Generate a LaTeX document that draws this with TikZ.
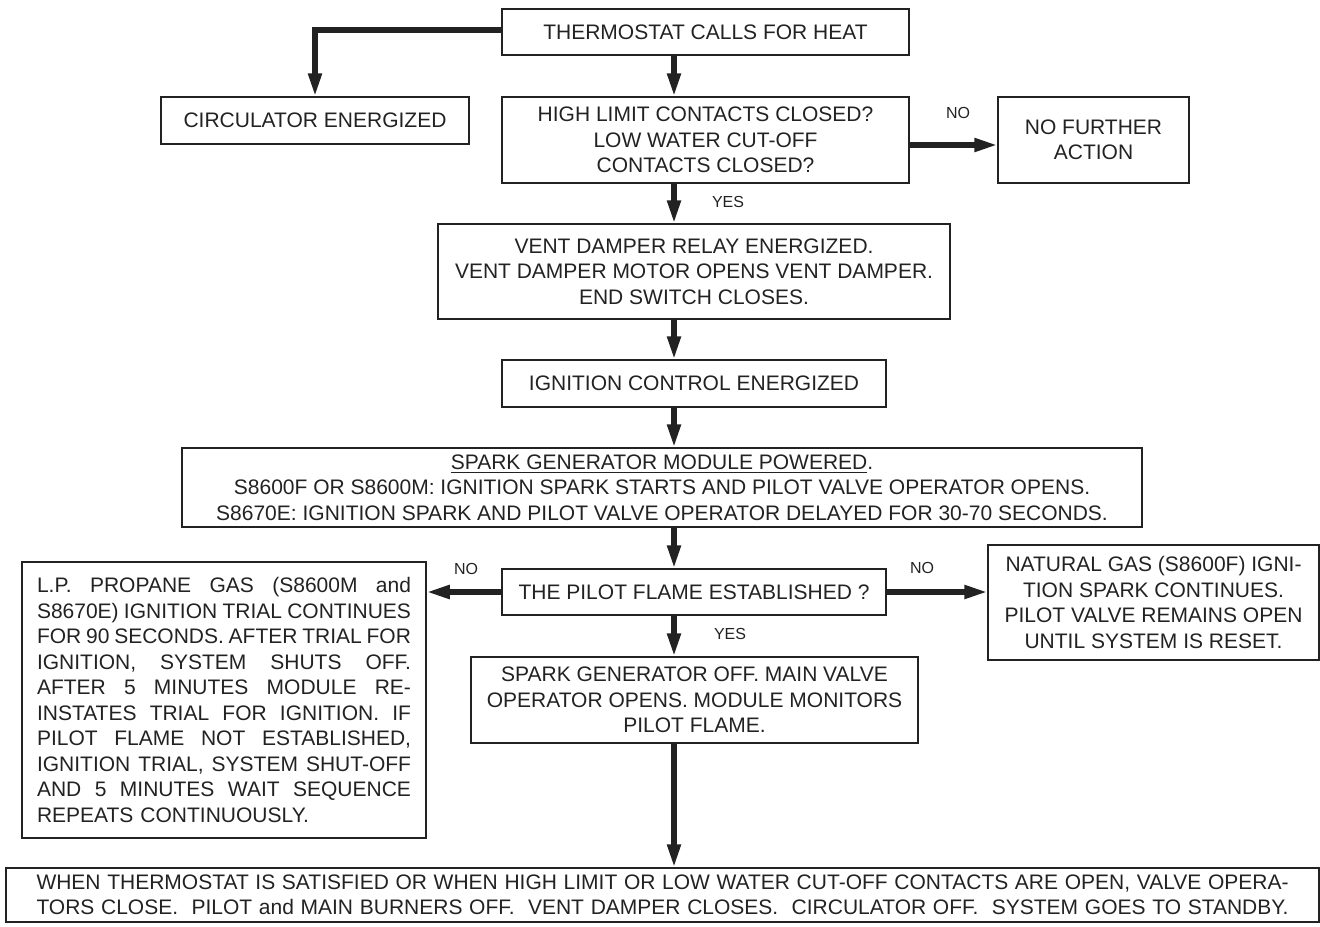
\documentclass[tikz,border=0pt]{standalone}
\usepackage{fontspec}
\setmainfont{Liberation Sans}
\usetikzlibrary{arrows.meta,calc}
\definecolor{ink}{HTML}{222222}
\tikzset{
  box/.style={draw=ink, line width=0.75pt, inner sep=0pt, align=center, text=ink,
    font=\fontsize{10.5}{12.75}\selectfont},
  arr/.style={draw=ink, line width=2.6pt, -{Triangle[length=11.5pt,width=6.5pt]}},
  lbl/.style={text=ink, inner sep=0pt, font=\fontsize{8}{9.6}\selectfont},
}
\newcommand{\jl}[2][187pt]{{\spaceskip=0pt\xspaceskip=0pt\makebox[#1][s]{#2}}}
\begin{document}
\begin{tikzpicture}[x=0.5pt,y=-0.5pt]
\useasboundingbox (0,0) rectangle (1320,926);
\coordinate (ax) at (674,0);
\coordinate (ny) at (0,145);
\coordinate (ly) at (0,30);

\node[box, minimum width=203.5pt, minimum height=23pt] (therm) at (705.5,32) {THERMOSTAT CALLS FOR HEAT};
\node[box, minimum width=154pt, minimum height=23.5pt] (circ) at (315,120.5) {CIRCULATOR ENERGIZED};
\node[box, minimum width=203.5pt, minimum height=43pt] (high) at (705.5,140) {HIGH LIMIT CONTACTS CLOSED?\\LOW WATER CUT-OFF\\CONTACTS CLOSED?};
\node[box, minimum width=95.5pt, minimum height=43pt] (nofur) at (1093.5,140) {NO FURTHER\\ACTION};
\node[box, minimum width=256pt, minimum height=47.5pt] (vent) at (694,271.5) {VENT DAMPER RELAY ENERGIZED.\\VENT DAMPER MOTOR OPENS VENT DAMPER.\\END SWITCH CLOSES.};
\node[box, minimum width=192pt, minimum height=23.5pt] (ign) at (694,383.5) {IGNITION CONTROL ENERGIZED};
\node[box, minimum width=480pt, minimum height=39.5pt] (spark) at (662,487.5) {\underline{SPARK GENERATOR MODULE POWERED}.\\S8600F OR S8600M: IGNITION SPARK STARTS AND PILOT VALVE OPERATOR OPENS.\\S8670E: IGNITION SPARK AND PILOT VALVE OPERATOR DELAYED FOR 30-70 SECONDS.};
\node[box, minimum width=192pt, minimum height=23pt] (pilot) at (694,592) {THE PILOT FLAME ESTABLISHED ?};
\node[box, minimum width=202pt, minimum height=138pt, text width=187pt, align=left] (lp) at (224,700) {%
\jl{L.P. PROPANE GAS (S8600M and}\\
\jl{S8670E) IGNITION TRIAL CONTINUES}\\
\jl{FOR 90 SECONDS. AFTER TRIAL FOR}\\
\jl{IGNITION, SYSTEM SHUTS OFF.}\\
\jl{AFTER 5 MINUTES MODULE RE-}\\
\jl{INSTATES TRIAL FOR IGNITION. IF}\\
\jl{PILOT FLAME NOT ESTABLISHED,}\\
\jl{IGNITION TRIAL, SYSTEM SHUT-OFF}\\
\jl{AND 5 MINUTES WAIT SEQUENCE}\\
REPEATS CONTINUOUSLY.};
\node[box, minimum width=165.5pt, minimum height=57.5pt] (nat) at (1153.5,602.5) {NATURAL GAS (S8600F) IGNI-\\TION SPARK CONTINUES.\\PILOT VALVE REMAINS OPEN\\UNTIL SYSTEM IS RESET.};
\node[box, minimum width=223.5pt, minimum height=43pt] (off) at (694.5,700) {SPARK GENERATOR OFF. MAIN VALVE\\OPERATOR OPENS. MODULE MONITORS\\PILOT FLAME.};
\node[box, minimum width=656.5pt, minimum height=27pt, text width=626pt, align=left] (bot) at (662.5,895) {%
\jl[626pt]{WHEN THERMOSTAT IS SATISFIED OR WHEN HIGH LIMIT OR LOW WATER CUT-OFF CONTACTS ARE OPEN, VALVE OPERA-}\\
\jl[626pt]{TORS CLOSE.\ \ PILOT and MAIN BURNERS OFF.\ \ VENT DAMPER CLOSES.\ \ CIRCULATOR OFF.\ \ SYSTEM GOES TO STANDBY.}};

% connectors
\draw[arr] (therm.west |- ly) -| (circ.north);
\draw[arr] (therm.south -| ax) -- (high.north -| ax);
\draw[arr] (high.east |- ny) -- (nofur.west |- ny);
\draw[arr] (high.south -| ax) -- (vent.north -| ax);
\draw[arr] (vent.south -| ax) -- (ign.north -| ax);
\draw[arr] (ign.south -| ax) -- (spark.north -| ax);
\draw[arr] (spark.south -| ax) -- (pilot.north -| ax);
\draw[arr] (pilot.west) -- (pilot.west -| lp.east);
\draw[arr] (pilot.east) -- (pilot.east -| nat.west);
\draw[arr] (pilot.south -| ax) -- (off.north -| ax);
\draw[arr] (off.south -| ax) -- (bot.north -| ax);

% labels
\node[lbl] (l1) at (958,113) {NO};
\node[lbl] (l2) at (728,202) {YES};
\node[lbl] (l3) at (466,569) {NO};
\node[lbl] (l4) at (922,568) {NO};
\node[lbl] (l5) at (730,634) {YES};
\end{tikzpicture}
\end{document}
